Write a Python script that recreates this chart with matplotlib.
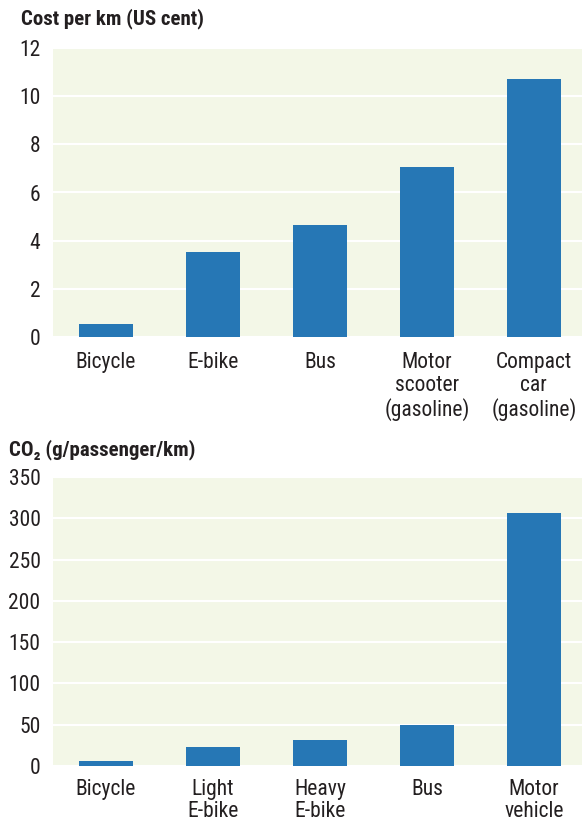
import matplotlib
matplotlib.use("Agg")
import matplotlib.pyplot as plt
from matplotlib import font_manager as fm

# ---- data ----
cost_categories = ["Bicycle", "E-bike", "Bus", "Motor\nscooter\n(gasoline)", "Compact\ncar\n(gasoline)"]
cost_values = [0.55, 3.55, 4.65, 7.05, 10.7]
cost_ticks = [0, 2, 4, 6, 8, 10, 12]

co2_categories = ["Bicycle", "Light\nE-bike", "Heavy\nE-bike", "Bus", "Motor\nvehicle"]
co2_values = [6, 23, 32, 50, 307]
co2_ticks = [0, 50, 100, 150, 200, 250, 300, 350]

# ---- style ----
avail = {f.name for f in fm.fontManager.ttflist}
fam = [f for f in ["Roboto Condensed", "Liberation Sans Narrow", "DejaVu Sans Condensed", "Liberation Sans", "DejaVu Sans"] if f in avail]
plt.rcParams['font.family'] = fam
BG = "#f3f7e7"
BAR = "#2677b5"
TXT = "#231f20"

W, H = 582, 821
fig = plt.figure(figsize=(W / 100, H / 100), dpi=100)

def add_ax(left, top, right, bottom):
    return fig.add_axes([left / W, 1 - bottom / H, (right - left) / W, (bottom - top) / H])

def style(ax, cats, vals, ticks, ymax, xpad, lsp):
    ax.set_facecolor(BG)
    x = list(range(len(cats)))
    ax.bar(x, vals, width=0.5, color=BAR, zorder=3)
    ax.set_ylim(0, ymax)
    ax.set_xlim(-0.495, 4.45)
    ax.set_yticks(ticks)
    ax.set_yticklabels([str(t) for t in ticks], fontsize=15.5, color=TXT)
    ax.set_xticks(x)
    ax.set_xticklabels(cats, fontsize=15.5, color=TXT, linespacing=lsp, va="top")
    ax.tick_params(axis="both", length=0)
    ax.tick_params(axis="y", pad=9)
    ax.tick_params(axis="x", pad=xpad)
    ax.grid(axis="y", color="white", linewidth=1.5, zorder=1)
    ax.set_axisbelow(True)
    for s in ax.spines.values():
        s.set_visible(False)

ax1 = add_ax(53, 48, 582, 337)
style(ax1, cost_categories, cost_values, cost_ticks, 12, 10.5, 1.13)
fig.text(21 / W, 1 - 19 / H, "Cost per km (US cent)", fontsize=15, fontweight="bold",
         color=TXT, ha="left", va="center")

ax2 = add_ax(53, 477, 582, 766)
style(ax2, co2_categories, co2_values, co2_ticks, 350, 9.5, 1.06)
fig.text(9 / W, 1 - 450 / H, "CO₂ (g/passenger/km)", fontsize=15, fontweight="bold",
         color=TXT, ha="left", va="center")

fig.savefig("out.png", dpi=100, facecolor="white")
